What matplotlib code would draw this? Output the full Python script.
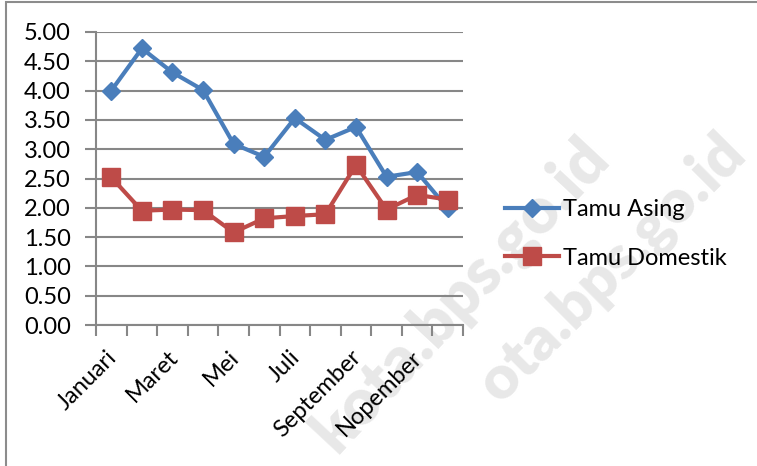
import numpy as np
import matplotlib.pyplot as plt
from matplotlib.patches import Rectangle
import matplotlib.transforms as mtransforms

plt.rcParams['font.family'] = ['Lato', 'DejaVu Sans']

# monthly values
months = ['Januari', 'Pebruari', 'Maret', 'April', 'Mei', 'Juni',
          'Juli', 'Agustus', 'September', 'Oktober', 'Nopember', 'Desember']
tamu_asing = [4.00, 4.72, 4.31, 4.01, 3.09, 2.87, 3.53, 3.16, 3.38, 2.53, 2.61, 1.99]
tamu_domestik = [2.52, 1.95, 1.97, 1.96, 1.58, 1.82, 1.86, 1.89, 2.73, 1.97, 2.22, 2.14]
yticks = [0, 0.5, 1, 1.5, 2, 2.5, 3, 3.5, 4, 4.5, 5]

W, H = 757, 466
fig = plt.figure(figsize=(W / 100, H / 100), dpi=100)

# outer chart border (cut off on right and bottom)
fig.patches.append(Rectangle((6 / W, -0.1), 1.2, (1 - 1.5 / H) + 0.1,
                             transform=fig.transFigure, fill=False,
                             edgecolor='#8c8c8c', lw=1.5))

ax = fig.add_axes([96 / W, 1 - 325 / H, (463 - 96) / W, (325 - 32) / H])

x = np.arange(len(months))
grid_c = '#878787'
ax.set_xlim(-0.5, len(months) - 0.5)
ax.set_ylim(0, 5)
ax.set_yticks(yticks)
ax.set_yticklabels(['%.2f' % v for v in yticks], fontsize=17)
ax.yaxis.grid(True, color=grid_c, lw=1.5, zorder=0)
ax.set_axisbelow(True)

# tick marks between categories, labels every other month
ax.set_xticks(np.arange(-0.5, len(months), 1))
ax.set_xticklabels([])
ax.tick_params(axis='x', length=8, width=1.5, color=grid_c, direction='out')
ax.tick_params(axis='y', length=8, width=1.5, color=grid_c, direction='out', pad=10)
for sp in ['top', 'right']:
    ax.spines[sp].set_visible(False)
for sp in ['left', 'bottom']:
    ax.spines[sp].set_color(grid_c)
    ax.spines[sp].set_linewidth(1.5)

offset = mtransforms.ScaledTranslation(2 / 100, -29 / 100, fig.dpi_scale_trans)
for i in range(0, len(months), 2):
    ax.text(x[i], 0, months[i], rotation=45, rotation_mode='anchor',
            ha='right', va='center', fontsize=17,
            transform=ax.transData + offset, clip_on=False)

# watermark
wm_c = '#e8e8e8'
fig.text(612 / W, 1 - 160 / H, 'kota.bps.go.id', rotation=47, rotation_mode='anchor',
         ha='right', va='baseline', fontsize=46, fontweight='heavy', color=wm_c, zorder=1.5)
fig.text(748 / W, 1 - 156 / H, 'ota.bps.go.id', rotation=45, rotation_mode='anchor',
         ha='right', va='baseline', fontsize=44, fontweight='heavy', color=wm_c, zorder=1.5)
ax.set_zorder(2)
ax.patch.set_alpha(0)

blue = '#4A7EBB'
red = '#BE4B48'
l1, = ax.plot(x, tamu_asing, color=blue, lw=3, marker='D', ms=9, label='Tamu Asing', zorder=3)
l2, = ax.plot(x, tamu_domestik, color=red, lw=3, marker='s', ms=13, label='Tamu Domestik', zorder=4)

fig.legend(handles=[l1, l2], loc='center left', bbox_to_anchor=(505 / W, 1 - 234 / H),
           frameon=False, fontsize=17, handlelength=2.3, handletextpad=0.15,
           labelspacing=1.15, borderpad=0, borderaxespad=0)

fig.savefig('out.png', dpi=100)
